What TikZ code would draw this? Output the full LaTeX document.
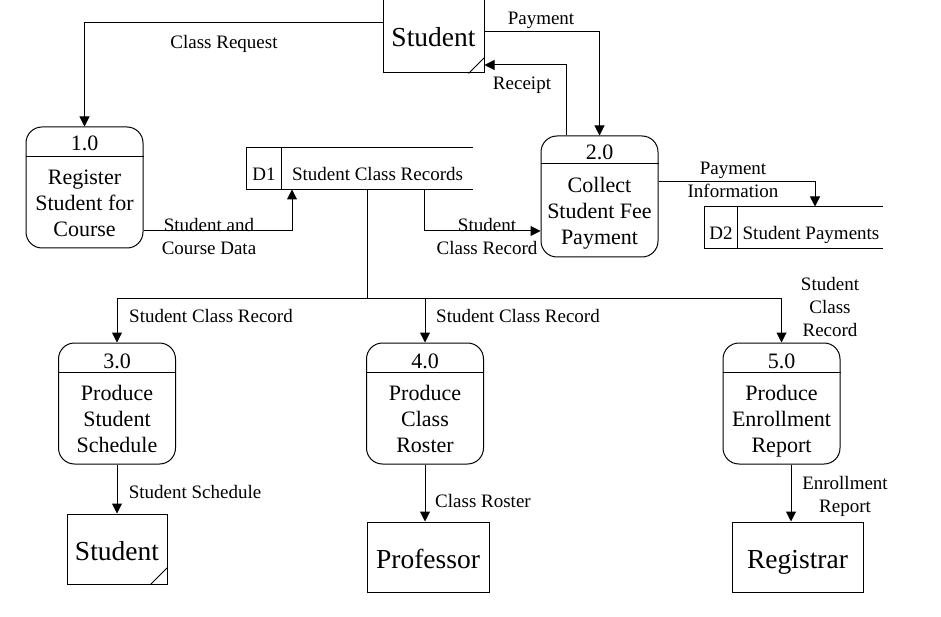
\documentclass[tikz,border=0pt]{standalone}
\usepackage{fontspec}
\setmainfont{Liberation Serif}
\usetikzlibrary{arrows.meta}
\begin{document}
\begin{tikzpicture}[x=1pt,y=-1pt,line width=1pt,
  arr/.style={-{Triangle[length=10pt,width=10pt]}},
  lbl/.style={font=\fontsize{19}{23}\selectfont,align=center,inner sep=0pt},
  ptxt/.style={font=\fontsize{22}{26}\selectfont,align=center,inner sep=0pt,anchor=base},
  ent/.style={draw,font=\fontsize{27.5}{30}\selectfont,inner sep=0pt,text height=22pt,text depth=0pt},
  proc/.style={draw,rounded corners=16pt,inner sep=0pt,minimum width=117pt,minimum height=121pt},
  store/.style={inner sep=0pt},
]
\useasboundingbox (0,0) rectangle (941,617);

% external entities
\node[ent,minimum width=101pt,minimum height=78pt,text height=25pt] (st) at (433.5,34) {Student};
\draw (st.south east) ++(0,-16) -- ++(-16,16);
\node[ent,minimum width=100pt,minimum height=70pt] (s2) at (117,549) {Student};
\draw (s2.south east) ++(0,-17) -- ++(-17,17);
\node[ent,minimum width=122pt,minimum height=70pt] (prof) at (428,557) {Professor};
\node[ent,minimum width=131pt,minimum height=70pt] (reg) at (797.5,557) {Registrar};

% processes
\node[proc] (p1) at (84.5,187.5) {};
\draw (p1.west |- 0,157) -- (p1.east |- 0,157);
\node[ptxt] (p1id) at (84.5,151) {1.0};
\node[ptxt] (p1t) at (84.5,237) {Register\\Student for\\Course};

\node[proc] (p2) at (599.5,196.5) {};
\draw (p2.west |- 0,164) -- (p2.east |- 0,164);
\node[ptxt] (p2id) at (599.5,159.5) {2.0};
\node[ptxt] (p2t) at (599.5,245) {Collect\\Student Fee\\Payment};

\node[proc] (p3) at (117,403.5) {};
\draw (p3.west |- 0,372) -- (p3.east |- 0,372);
\node[ptxt] (p3id) at (117,368) {3.0};
\node[ptxt] (p3t) at (117,452.5) {Produce\\Student\\Schedule};

\node[proc] (p4) at (425,403.5) {};
\draw (p4.west |- 0,372) -- (p4.east |- 0,372);
\node[ptxt] (p4id) at (425,368) {4.0};
\node[ptxt] (p4t) at (425,452.5) {Produce\\Class\\Roster};

\node[proc] (p5) at (781.5,403.5) {};
\draw (p5.west |- 0,372) -- (p5.east |- 0,372);
\node[ptxt] (p5id) at (781.5,368) {5.0};
\node[ptxt] (p5t) at (781.5,452.5) {Produce\\Enrollment\\Report};

% data stores
\node[store,minimum width=225pt,minimum height=41pt] (d1) at (359.5,168.5) {};
\draw (d1.north east) -- (d1.north west) -- (d1.south west) -- (d1.south east);
\draw (281,148) -- (281,189);
\node[lbl,anchor=base] (d1id) at (264,180.5) {D1};
\node[lbl,anchor=base] (d1t) at (377.5,180.5) {Student Class Records};

\node[store,minimum width=177pt,minimum height=41pt] (d2) at (793.5,227.5) {};
\draw (d2.north east) -- (d2.north west) -- (d2.south west) -- (d2.south east);
\draw (737,207) -- (737,248);
\node[lbl,anchor=base] (d2id) at (721,240) {D2};
\node[lbl,anchor=base] (d2t) at (811,240) {Student Payments};

% helper coordinates
\coordinate (rx) at (566,65);
\coordinate (sc) at (292,231);
\coordinate (dc) at (424,231);
\coordinate (pi) at (815,182);
\coordinate (j) at (367,298);
\coordinate (er) at (791,0);

% connectors
\draw[arr] (st.west |- 0,23) -| (p1.north);
\draw[arr] (st.east |- 0,32) -| (p2.north);
\draw[arr] (p2.north -| rx) |- (st.east |- rx);
\draw[arr] (p1.east |- sc) -| (d1.south -| sc);
\draw[arr] (d1.south -| dc) |- (p2.west |- dc);
\draw[arr] (p2.east |- pi) -| (d2.north -| pi);
\draw (d1.south -| j) -- (j);
\draw[arr] (j) -| (p3.north);
\draw[arr] (j) -| (p4.north);
\draw[arr] (j) -| (p5.north);
\draw[arr] (p3.south) -- (s2.north);
\draw[arr] (p4.south) -- (p4.south |- prof.north);
\draw[arr] (p5.south -| er) -- (reg.north -| er);

% labels
\node[lbl] (lcr) at (224,44) {Class Request};
\node[lbl] (lpay) at (541,20) {Payment};
\node[lbl] (lrec) at (522,85) {Receipt};
\node[lbl] (lscd) at (209,237) {Student and\\Course Data};
\node[lbl] (lscr) at (487,237) {Student\\Class Record};
\node[lbl] (lpi) at (733,180) {Payment\\Information};
\node[lbl] (l3) at (211,316) {Student Class Record};
\node[lbl] (l4) at (518,316) {Student Class Record};
\node[lbl] (l5) at (830,307) {Student\\Class\\Record};
\node[lbl] (lss) at (195,492) {Student Schedule};
\node[lbl] (lro) at (483,501) {Class Roster};
\node[lbl] (ler) at (845,496) {Enrollment\\Report};
\end{tikzpicture}
\end{document}
